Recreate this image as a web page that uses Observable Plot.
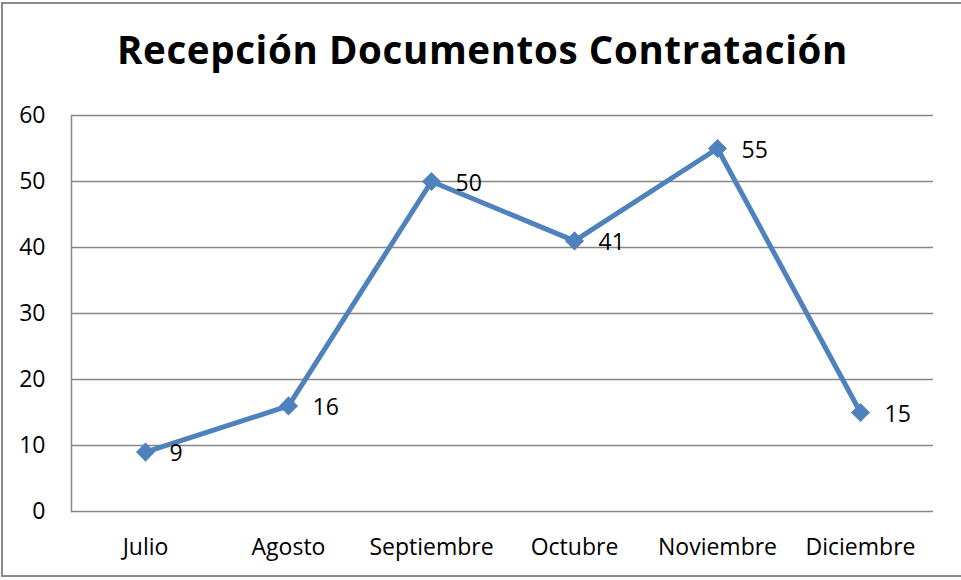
<!DOCTYPE html>
<html>
<head>
<meta charset="utf-8">
<script src="https://cdn.jsdelivr.net/npm/d3@7"></script>
<script src="https://cdn.jsdelivr.net/npm/@observablehq/plot@0.6"></script>
<style>
  html, body { margin: 0; padding: 0; background: #fff; overflow: hidden; }
  #wrap { position: relative; width: 961px; height: 580px; overflow: hidden; background: #fff; }
  #title { height: 95px; box-sizing: border-box; padding-top: 30px; text-align: center; white-space: nowrap;
           font-family: "Open Sans", Lato, sans-serif; font-weight: bold; font-size: 38.5px; line-height: 1; color: #000; }
  #title span { display: inline-block; position: relative; left: 2px; }
  #border { position: absolute; left: 1px; top: 2px; width: 1100px; height: 575px;
            border: 2px solid #8a8a8a; border-right: none; box-sizing: border-box; pointer-events: none; }
  svg { display: block; }
</style>
</head>
<body>
<div id="wrap">
  <div id="title"><span id="tspan">Recepción Documentos Contratación</span></div>
  <div id="chart"></div>
  <div id="border"></div>
</div>
<script>
const months = ["Julio", "Agosto", "Septiembre", "Octubre", "Noviembre", "Diciembre"];
const values = [9, 16, 50, 41, 55, 15];
const yTicks = [0, 10, 20, 30, 40, 50, 60];

const data = months.map((m, i) => ({month: m, value: values[i]}));
const blue = "#4F81BD";
const grid = "#868686";

// fit the title to the width it has in the reference
const tspan = document.getElementById("tspan");
const targetWidth = 731;
const w0 = tspan.getBoundingClientRect().width;
const n = tspan.textContent.length;
tspan.style.letterSpacing = ((targetWidth - w0) / n) + "px";

const chart = Plot.plot({
  width: 961,
  height: 485,
  marginTop: 20,
  marginBottom: 69,
  marginLeft: 71,
  marginRight: 28,
  style: {fontFamily: "'Open Sans', Lato, sans-serif", fontSize: "23px", color: "#000", background: "transparent", overflow: "visible"},
  x: {type: "point", domain: months, padding: 0.5, label: null, tickSize: 0, tickPadding: 27},
  y: {domain: [0, 60], ticks: yTicks, label: null, tickSize: 0, tickPadding: 26},
  marks: [
    Plot.ruleY(yTicks, {stroke: grid, strokeWidth: 1.5}),
    Plot.frame({anchor: "left", stroke: grid, strokeWidth: 1.5}),
    Plot.line(data, {x: "month", y: "value", stroke: blue, strokeWidth: 5, strokeLinejoin: "round"}),
    Plot.dot(data, {x: "month", y: "value", symbol: "diamond2", r: 8.6, fill: blue, stroke: "none"}),
    Plot.text(data, {x: "month", y: "value", text: d => String(d.value), dx: 24, dy: 2, textAnchor: "start", fontSize: 23, fill: "#000"})
  ]
});
document.getElementById("chart").appendChild(chart);
</script>
</body>
</html>
